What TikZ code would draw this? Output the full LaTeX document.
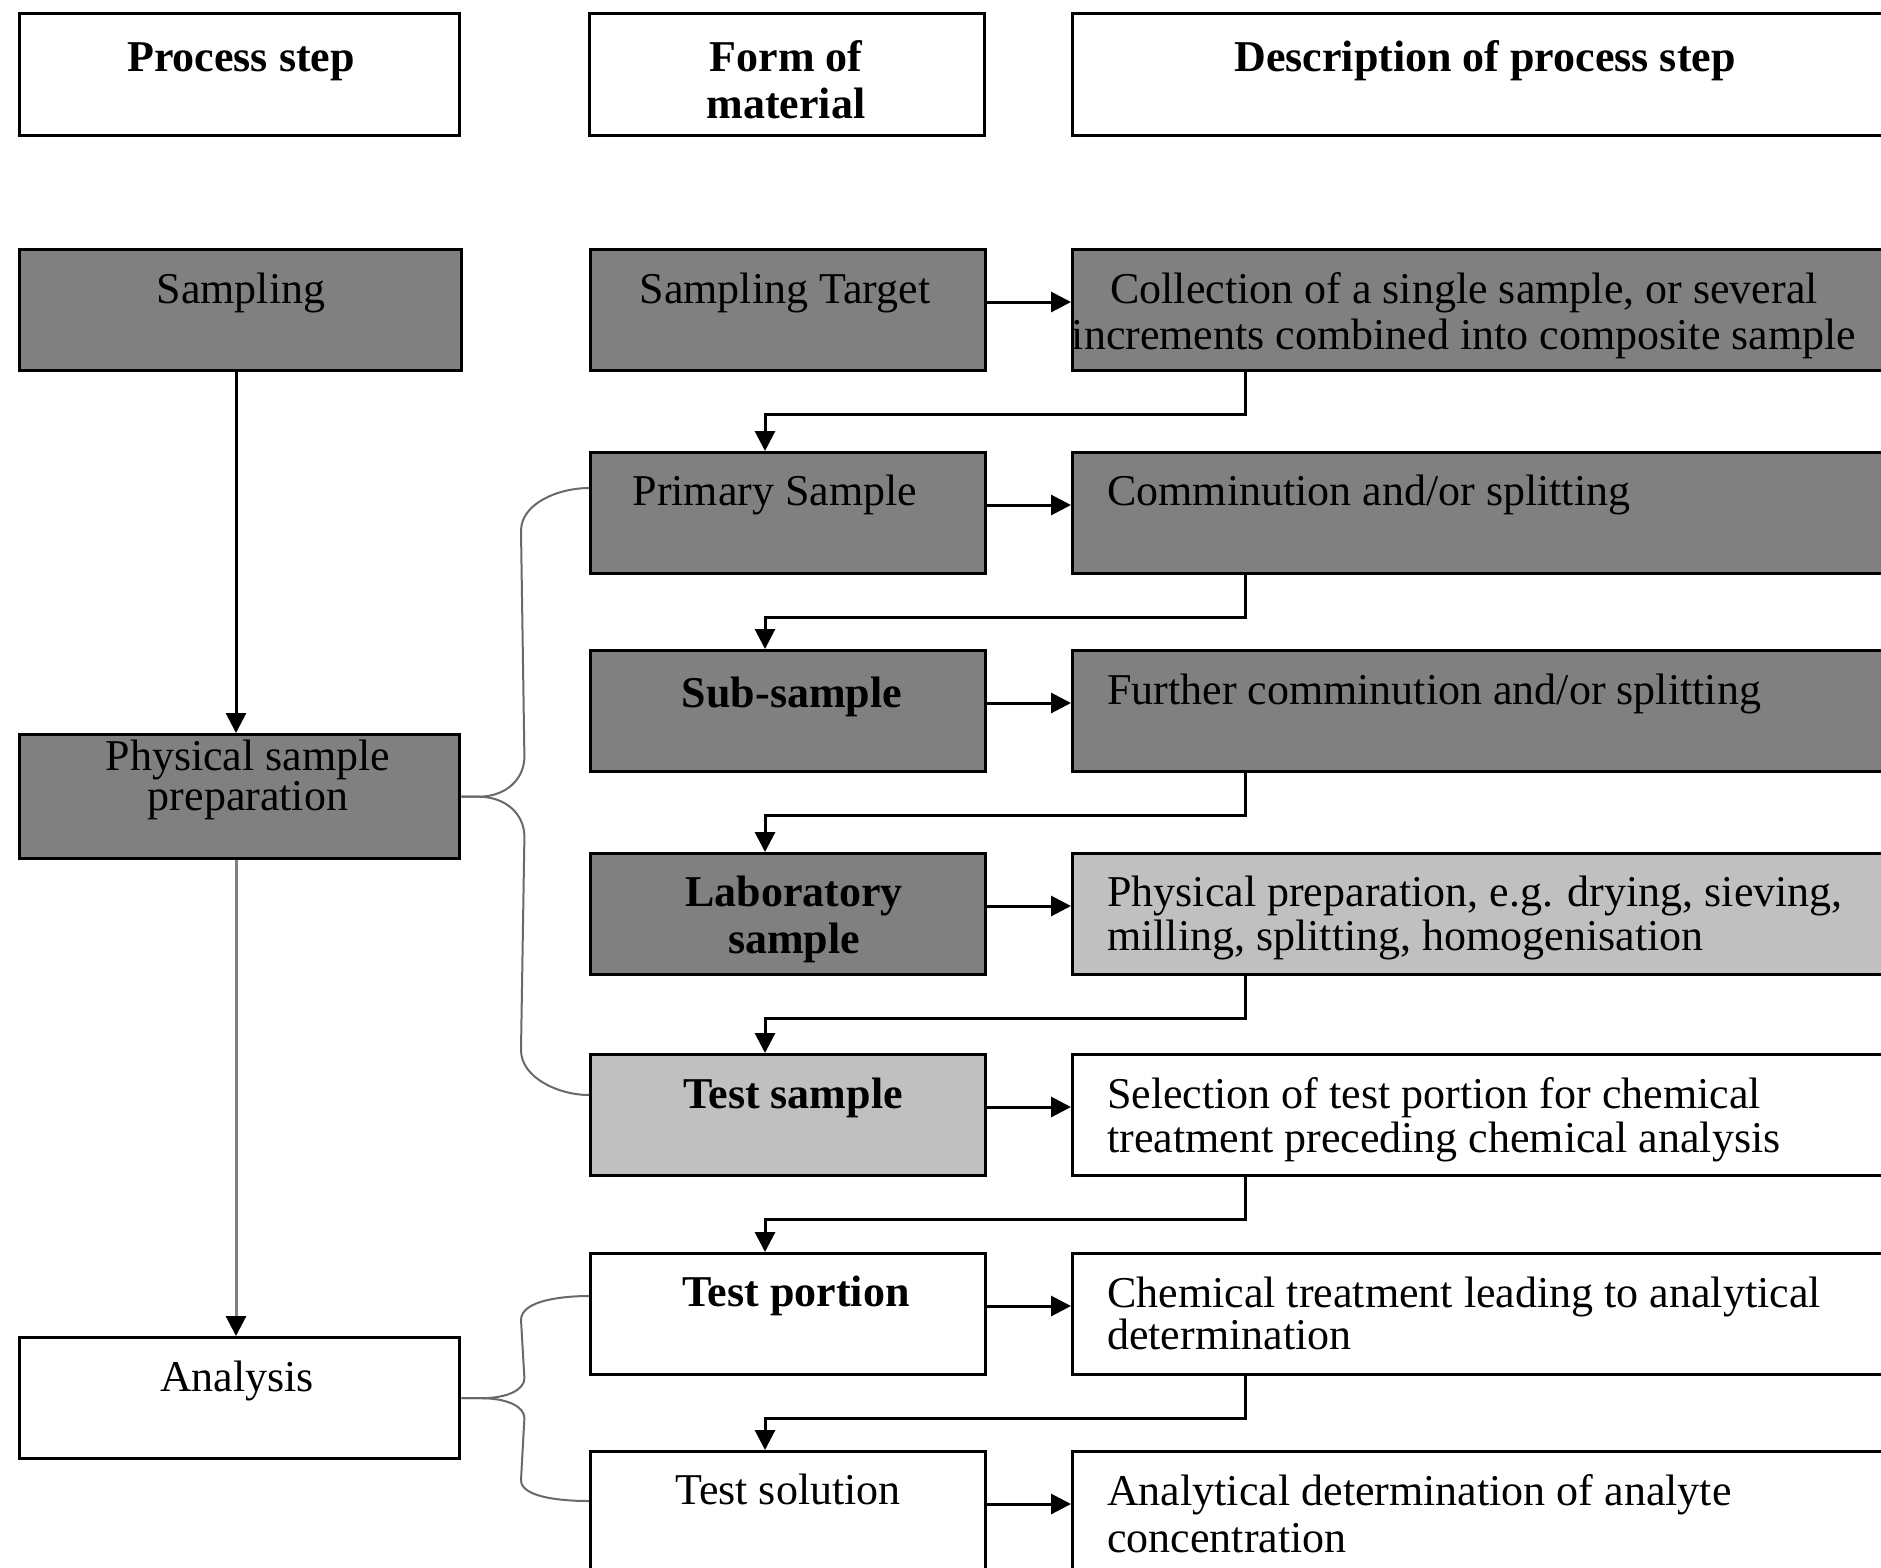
\documentclass[tikz,border=0pt]{standalone}
\usepackage{fontspec}
\setmainfont{Liberation Serif}
\usetikzlibrary{arrows.meta,calc}
\definecolor{darkfill}{RGB}{128,128,128}
\definecolor{lightfill}{RGB}{192,192,192}
\definecolor{bracegray}{RGB}{105,105,105}
\definecolor{linegray}{RGB}{128,128,128}
\begin{document}
\begin{tikzpicture}[x=1pt,y=-1pt,
  box/.style={draw, line width=3.4pt, anchor=north west, inner sep=0pt, minimum height=121pt},
  colA/.style={box, minimum width=440pt},
  colB/.style={box, minimum width=395pt},
  colC/.style={box, minimum width=830pt},
  dk/.style={fill=darkfill},
  lt/.style={fill=lightfill},
  txt/.style={inner sep=0pt, font=\fontsize{44}{46}\selectfont, align=center, anchor=base},
  btxt/.style={inner sep=0pt, font=\fontsize{44}{47}\selectfont\bfseries, align=center, anchor=base},
  ltxt/.style={inner sep=0pt, font=\fontsize{44}{44}\selectfont, align=left, anchor=base west},
  arr/.style={line width=3pt, -{Triangle[length=20pt,width=20pt,color=black]}},
  brace/.style={line width=2pt, draw=bracegray},
]
\useasboundingbox (0,0) rectangle (1881,1567);
\clip (0,0) rectangle (1881,1567);

% header boxes
\node[colA, minimum height=122pt] (h1) at (18,12) {};
\node[colB, minimum height=122pt] (h2) at (588,12) {};
\node[colC, minimum height=122pt] (h3) at (1071,12) {};
\node[btxt] (th1) at (241,71) {Process step};
\node[btxt] (th2) at (786,118) {Form of\\material};
\node[btxt] (th3) at (1485,71) {Description of process step};

% column 1
\node[colA, dk, minimum width=442pt] (samp) at (18,248) {};
\node[colA, dk, minimum height=124pt] (psp) at (18,733) {};
\node[colA] (ana) at (18,1336) {};
\node[txt] (tsamp) at (241,303) {Sampling};
\node[txt, font=\fontsize{44}{40}\selectfont] (tpsp) at (248,810) {Physical sample\\preparation};
\node[txt] (tana) at (237,1391) {Analysis};

% column 2
\node[colB, dk] (m1) at (589,248) {};
\node[colB, dk] (m2) at (589,451) {};
\node[colB, dk] (m3) at (589,649) {};
\node[colB, dk] (m4) at (589,852) {};
\node[colB, lt] (m5) at (589,1053) {};
\node[colB] (m6) at (589,1252) {};
\node[colB] (m7) at (589,1450) {};
\node[txt] (tm1) at (785,303) {Sampling Target};
\node[txt] (tm2) at (775,505) {Primary Sample};
\node[btxt] (tm3) at (792,707) {Sub-sample};
\node[btxt] (tm4) at (794,953) {Laboratory\\sample};
\node[btxt] (tm5) at (793,1108) {Test sample};
\node[btxt] (tm6) at (796,1306) {Test portion};
\node[txt] (tm7) at (788,1504) {Test solution};

% column 3
\node[colC, dk] (d1) at (1071,248) {};
\node[colC, dk] (d2) at (1071,451) {};
\node[colC, dk] (d3) at (1071,649) {};
\node[colC, lt] (d4) at (1071,852) {};
\node[colC] (d5) at (1071,1053) {};
\node[colC] (d6) at (1071,1252) {};
\node[colC] (d7) at (1071,1450) {};
\node[txt] (td1) at (1464,349) {Collection of a single sample, or several\\increments combined into composite sample};
\node[ltxt] (td2) at (1107,505) {Comminution and/or splitting};
\node[ltxt] (td3) at (1107,704) {Further comminution and/or splitting};
\node[ltxt] (td4) at (1107,950) {Physical preparation, e.g. drying, sieving,\\milling, splitting, homogenisation};
\node[ltxt] (td5) at (1107,1152) {Selection of test portion for chemical\\treatment preceding chemical analysis};
\node[ltxt, font=\fontsize{44}{42}\selectfont] (td6) at (1107,1349) {Chemical treatment leading to analytical\\determination};
\node[ltxt, font=\fontsize{44}{47}\selectfont] (td7) at (1107,1552) {Analytical determination of analyte\\concentration};

% horizontal arrows
\foreach \i in {1,...,7}{
  \draw[arr] ($(m\i.north east)+(0,54)$) -- ($(d\i.north west)+(0,54)$);
}
% elbow connectors
\foreach \i/\j in {1/2,2/3,3/4,4/5,5/6,6/7}{
  \draw[arr] ($(d\i.south west)+(174,0)$) -- ++(0,42) -| ($(m\j.north west)+(176,0)$);
}

% column 1 arrows
\draw[arr] ($(samp.south west)+(218,0)$) -- ($(psp.north west)+(218,0)$);
\draw[arr, draw=linegray] ($(psp.south west)+(218,0)$) -- ($(ana.north west)+(218,0)$);

% braces
\draw[brace] (psp.east) -- ++(17,0) .. controls +(28,0) and +(0,22) .. ++(46,-40)
  -- ($(m2.north west)+(-68,80)$) .. controls +(0,-28) and +(-30,0) .. ($(m2.north west)+(0,37)$);
\draw[brace] (psp.east) -- ++(17,0) .. controls +(28,0) and +(0,-22) .. ++(46,40)
  -- ($(m5.north west)+(-68,-3)$) .. controls +(0,28) and +(-30,0) .. ($(m5.north west)+(0,42)$);
\draw[brace] (ana.east) -- ++(20,0) .. controls +(25,0) and +(0,12) .. ++(43,-20)
  -- ($(m6.north west)+(-68,68)$) .. controls +(0,-20) and +(-25,0) .. ($(m6.north west)+(0,44)$);
\draw[brace] (ana.east) -- ++(20,0) .. controls +(25,0) and +(0,-12) .. ++(43,20)
  -- ($(m7.north west)+(-68,30)$) .. controls +(0,18) and +(-25,0) .. ($(m7.north west)+(0,51)$);
\end{tikzpicture}
\end{document}
